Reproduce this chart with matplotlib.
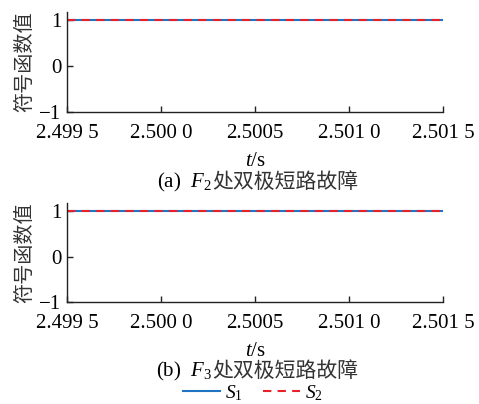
import matplotlib
matplotlib.use("Agg")
import matplotlib.pyplot as plt

plt.rcParams['font.family'] = ['Liberation Serif', 'Noto Sans CJK SC']
plt.rcParams['mathtext.fontset'] = 'custom'
plt.rcParams['mathtext.rm'] = 'Liberation Serif'
plt.rcParams['mathtext.it'] = 'Liberation Serif:italic'
plt.rcParams['axes.unicode_minus'] = True

t = [2.4995, 2.5015]
s1_a = [1, 1]
s2_a = [1, 1]
s1_b = [1, 1]
s2_b = [1, 1]
xticks = [2.4995, 2.5000, 2.5005, 2.5010, 2.5015]
xticklabels = ["2.499 5", "2.500 0", "2.5005", "2.501 0", "2.501 5"]
yticks = [-1, 0, 1]
yticklabels = ["\u22121", "0", "1"]
cap_prefix = [r"(a)  $F_2$", r"(b)  $F_3$"]
cap_text = ["处双极短路故障", "处双极短路故障"]

fig = plt.figure(figsize=(4.79, 4.04), dpi=100)
ax1 = fig.add_axes([0.1399, 0.7228, 0.7850, 0.2475])
ax2 = fig.add_axes([0.1399, 0.2525, 0.7850, 0.2450])

blue = '#1f74c4'
red = '#e8202a'
handles = None
for ax, s1, s2 in [(ax1, s1_a, s2_a), (ax2, s1_b, s2_b)]:
    l1, = ax.plot(t, s1, color=blue, lw=1.5, label=r'$S_1$')
    l2, = ax.plot(t, s2, color=red, lw=1.5, ls=(0, (4, 3)), label=r'$S_2$')
    handles = [l1, l2]
    ax.set_xlim(2.4995, 2.5015)
    ax.set_ylim(-1, 1.18)
    ax.set_xticks(xticks)
    ax.set_xticklabels(xticklabels)
    ax.set_yticks(yticks)
    ax.set_yticklabels(yticklabels)
    for sp in ['top', 'right']:
        ax.spines[sp].set_visible(False)
    for sp in ['left', 'bottom']:
        ax.spines[sp].set_linewidth(1.0)
        ax.spines[sp].set_color('#222222')
    ax.tick_params(direction='in', length=4, width=1.0, labelsize=15, color='#222222')
    ax.tick_params(axis='x', pad=9)
    ax.tick_params(axis='y', pad=4)
    ax.set_ylabel('符号函数值', fontsize=14.5, family=['Noto Sans CJK SC'], labelpad=3, color='#333333')
    ax.set_xlabel(r'$t$/s', fontsize=15, labelpad=6)

xa = 0.4426
fig.text(xa, 0.5495, cap_prefix[0], ha='right', va='center', fontsize=15)
fig.text(xa, 0.5495, cap_text[0], ha='left', va='center', fontsize=15, family=['Noto Sans CJK SC'], color='#333333')
fig.text(xa, 0.081, cap_prefix[1], ha='right', va='center', fontsize=15)
fig.text(xa, 0.081, cap_text[1], ha='left', va='center', fontsize=15, family=['Noto Sans CJK SC'], color='#333333')

fig.legend(handles=handles, loc='center', bbox_to_anchor=(0.528, 0.028), ncol=2,
           frameon=False, fontsize=14, handlelength=1.9, columnspacing=1.0,
           handletextpad=0.3, borderpad=0)

fig.savefig('out.png', dpi=100)
